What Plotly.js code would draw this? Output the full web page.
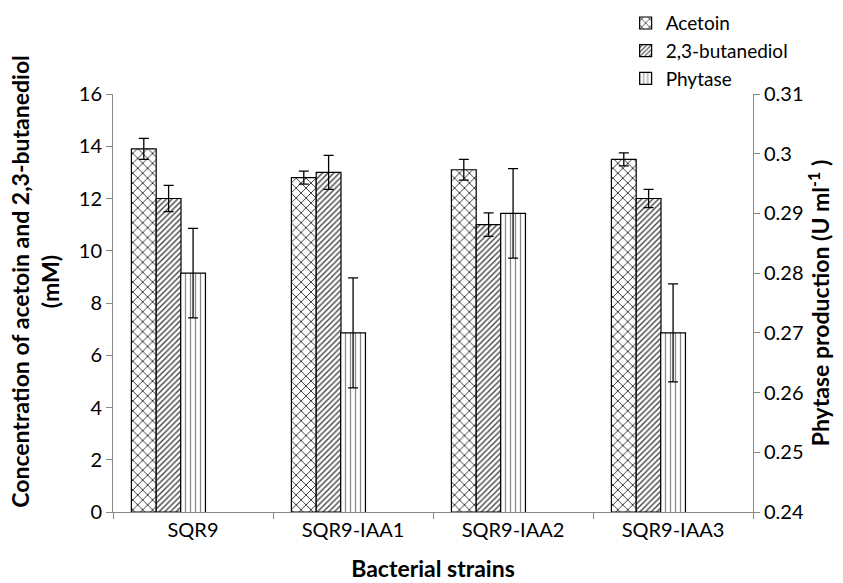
<!DOCTYPE html>
<html>
<head>
<meta charset="utf-8">
<script src="https://cdn.plot.ly/plotly-3.0.1.min.js"></script>
<style>html,body{margin:0;padding:0;background:#fff;}#chart{width:843px;height:583px;}</style>
</head>
<body>
<div id="chart"></div>
<script>
const strains = ["SQR9", "SQR9-IAA1", "SQR9-IAA2", "SQR9-IAA3"];
const acetoin = [13.9, 12.8, 13.1, 13.5];
const acetoinErr = [0.4, 0.25, 0.4, 0.25];
const butanediol = [12.0, 13.0, 11.0, 12.0];
const butanediolErr = [0.5, 0.65, 0.45, 0.35];
const phytase = [0.280, 0.270, 0.290, 0.270];
const phytaseErr = [0.0075, 0.0092, 0.0075, 0.0082];
const phytaseTicks = [0.24, 0.25, 0.26, 0.27, 0.28, 0.29, 0.3, 0.31];

const FONT = "Lato, 'Open Sans', sans-serif";
const barW = 0.155;

function errCfg(arr) {
  return {type: "data", array: arr, visible: true, color: "#000", thickness: 1.3, width: 5};
}

const traces = [
  {
    type: "bar", name: "Acetoin", x: strains, y: acetoin,
    width: barW, offset: -0.385,
    marker: {color: "#fff", line: {color: "#000", width: 1.2},
      pattern: {shape: "x", size: 7, solidity: 0.25, fgcolor: "#333", bgcolor: "#fff"}},
    error_y: errCfg(acetoinErr), yaxis: "y"
  },
  {
    type: "bar", name: "2,3-butanediol", x: strains, y: butanediol,
    width: barW, offset: -0.23,
    marker: {color: "#fff", line: {color: "#000", width: 1.2},
      pattern: {shape: "/", size: 4, solidity: 0.35, fgcolor: "#444", bgcolor: "#fff"}},
    error_y: errCfg(butanediolErr), yaxis: "y"
  },
  {
    type: "bar", name: "Phytase", x: strains, y: phytase,
    width: barW, offset: -0.077,
    marker: {color: "#fff", line: {color: "#000", width: 1.2},
      pattern: {shape: "|", size: 5, solidity: 0.25, fgcolor: "#888", bgcolor: "#fff"}},
    error_y: errCfg(phytaseErr), yaxis: "y2"
  }
];

const layout = {
  width: 843, height: 583,
  margin: {l: 113, r: 90, t: 94, b: 71, autoexpand: false},
  paper_bgcolor: "#fff", plot_bgcolor: "#fff",
  font: {family: FONT, size: 20, color: "#000"},
  barmode: "overlay",
  showlegend: true,
  legend: {x: 0.801, y: 1.215, xanchor: "left", yanchor: "top",
    font: {family: FONT, size: 19, color: "#000"}, tracegroupgap: 0, itemwidth: 30,
    bgcolor: "rgba(0,0,0,0)"},
  xaxis: {
    type: "category", tickson: "boundaries", ticks: "outside", ticklen: 6, tickcolor: "#888",
    showline: true, linecolor: "#888", linewidth: 1, showgrid: false, zeroline: false,
    tickfont: {family: FONT, size: 20},
    title: {text: "<b>Bacterial strains</b>", font: {family: FONT, size: 23}, standoff: 20},
    automargin: false
  },
  yaxis: {
    range: [0, 16], dtick: 2, ticks: "outside", ticklen: 6, tickcolor: "#888",
    showline: true, linecolor: "#888", linewidth: 1, showgrid: false, zeroline: false,
    tickfont: {family: FONT, size: 20},
    automargin: false
  },
  yaxis2: {
    overlaying: "y", side: "right", range: [0.24, 0.31],
    tickvals: phytaseTicks,
    ticktext: phytaseTicks.map(String),
    ticks: "outside", ticklen: 6, tickcolor: "#888",
    showline: true, linecolor: "#888", linewidth: 1, showgrid: false, zeroline: false,
    tickfont: {family: FONT, size: 20},
    title: {text: "<b>Phytase production (U ml<sup>-1</sup> )</b>", font: {family: FONT, size: 23}, standoff: 6},
    automargin: false
  },
  annotations: [
    {
      text: "<b>Concentration of acetoin and 2,3-butanediol<br>(mM)</b>",
      xref: "paper", yref: "paper", x: -0.122, y: 0.553,
      xanchor: "center", yanchor: "middle", textangle: -90, showarrow: false,
      font: {family: FONT, size: 23, color: "#000"}
    }
  ]
};

Plotly.newPlot("chart", traces, layout, {displayModeBar: false, staticPlot: true});
</script>
</body>
</html>
